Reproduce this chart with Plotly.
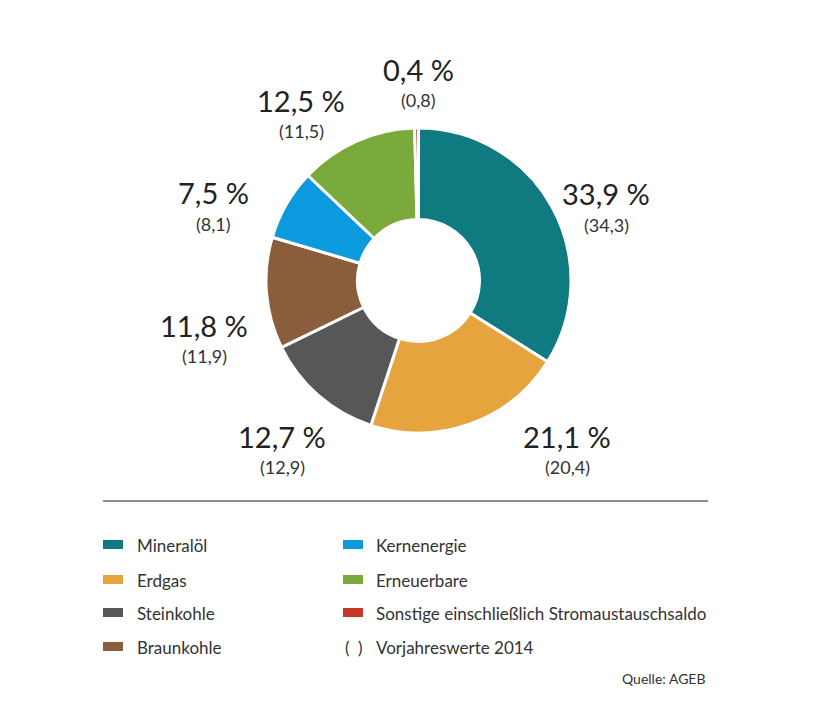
import plotly.graph_objects as go

W, H = 814, 720
OFF = 8  # page body margin

labels = ["Mineralöl", "Erdgas", "Steinkohle", "Braunkohle", "Kernenergie",
          "Erneuerbare", "Sonstige einschließlich Stromaustauschsaldo"]
shares_2015 = [33.9, 21.1, 12.7, 11.8, 7.5, 12.5, 0.4]
shares_2014 = [34.3, 20.4, 12.9, 11.9, 8.1, 11.5, 0.8]
colors = ["#0f7a7f", "#e6a43f", "#575757", "#8a5d3b", "#0b9ade", "#7aaa3b", "#c8352a"]
note_text = "Vorjahreswerte 2014"
source_text = "Quelle: AGEB"

# label centres in pixels (percent line), one per slice
label_pos = [(606, 194), (567, 436), (282, 436), (204, 325), (213, 193), (301, 100), (418, 69)]


def px(x, y):
    return (x - OFF) / W, 1 - (y - OFF) / H


def de(v):
    return f"{v:.1f}".replace(".", ",")


dx0, dy1 = px(265, 128)
dx1, dy0 = px(572, 433)
fig = go.Figure(go.Pie(
    labels=labels, values=shares_2015, sort=False, direction="clockwise", rotation=0,
    hole=0.4, marker=dict(colors=colors, line=dict(color="white", width=3)),
    textinfo="none", showlegend=False,
    domain=dict(x=[dx0, dx1], y=[dy0, dy1]),
))

ann = []
shapes = []
for (lx, ly), v, v0 in zip(label_pos, shares_2015, shares_2014):
    x, y = px(lx, ly)
    ann.append(dict(x=x, y=y, text=de(v) + " %", font=dict(size=29, color="#222")))
    x, y = px(lx, ly + 31)
    ann.append(dict(x=x, y=y, text="(" + de(v0) + ")", font=dict(size=18, color="#333")))

# divider line
x0, y0 = px(103, 501)
x1, _ = px(708, 501)
shapes.append(dict(type="line", xref="paper", yref="paper", x0=x0, x1=x1, y0=y0, y1=y0,
                   line=dict(color="#6b6b6b", width=1.5)))

# custom two-column legend
rows = [545, 580, 613, 647]
cols = [(103, 135), (343, 374)]
for i, (name, c) in enumerate(zip(labels, colors)):
    sx, tx = cols[i // 4]
    ry = rows[i % 4]
    a, b = px(sx, ry - 5)
    a2, b2 = px(sx + 20, ry + 4)
    shapes.append(dict(type="rect", xref="paper", yref="paper", x0=a, x1=a2, y0=b2, y1=b,
                       fillcolor=c, line=dict(width=0)))
    x, y = px(tx, ry)
    ann.append(dict(x=x, y=y, text=name, xanchor="left", font=dict(size=17, color="#333")))

x, y = px(354, rows[3])
ann.append(dict(x=x, y=y, text="(\u2002)", font=dict(size=17, color="#333")))
x, y = px(374, rows[3])
ann.append(dict(x=x, y=y, text=note_text, xanchor="left", font=dict(size=17, color="#333")))
x, y = px(708, 678)
ann.append(dict(x=x, y=y, text=source_text, xanchor="right", font=dict(size=14, color="#333")))

for a in ann:
    a.update(xref="paper", yref="paper", showarrow=False, yanchor="middle")
    a.setdefault("xanchor", "center")

fig.update_layout(
    width=W, height=H, margin=dict(l=0, r=0, t=0, b=0),
    paper_bgcolor="white", plot_bgcolor="white",
    font=dict(family="Lato, sans-serif"),
    annotations=ann, shapes=shapes,
)
fig.write_html("out.html")
